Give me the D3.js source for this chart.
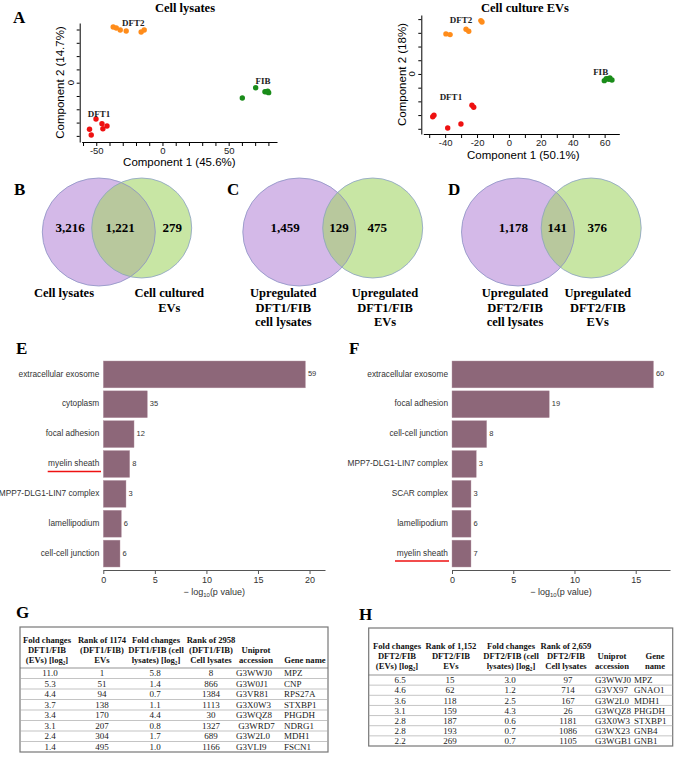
<!DOCTYPE html>
<html>
<head>
<meta charset="utf-8">
<script src="https://cdn.jsdelivr.net/npm/d3@7"></script>
<style>
body { margin: 0; background: #fff; }
</style>
</head>
<body>
<div id="fig"></div>
<script>
// ---- A: PCA scores ----
const lysDFT1 = [[-50.2, -27.3], [-45.7, -30.8], [-41.9, -32.6], [-45, -34.6], [-55.1, -35], [-53.8, -39.3]];
const lysDFT2 = [[-37.2, 41.9], [-34.9, 41.1], [-31.9, 39.6], [-27.4, 38.9], [-16.1, 38.1], [-13.8, 39.6]];
const lysFIB = [[60.3, -11.5], [70.4, -3.8], [77.4, -6.8], [78.7, -6.8], [80.2, -7.5], [79.5, -6.3]];
const evDFT1 = [[-47.8, -31.2], [-47, -30.1], [-38.4, -39.4], [-30.1, -36.5], [-23.2, -22.8], [-22.1, -24.3]];
const evDFT2 = [[-39.5, 29.2], [-36.9, 28.7], [-26.9, 32.6], [-25.2, 31.2], [-17.6, 38.9], [-16.9, 37.9]];
const evFIB = [[59.8, -4.9], [61.9, -3.4], [63.3, -2.9], [64.6, -4.4], [62.7, -3.9], [61, -3.5]];

// ---- B-D: Venn counts ----
const vennB = [3216, 1221, 279];
const vennC = [1459, 129, 475];
const vennD = [1178, 141, 376];
const vennBLabels = [["Cell lysates"], ["Cell cultured", "EVs"]];
const vennCLabels = [["Upregulated", "DFT1/FIB", "cell lysates"], ["Upregulated", "DFT1/FIB", "EVs"]];
const vennDLabels = [["Upregulated", "DFT2/FIB", "cell lysates"], ["Upregulated", "DFT2/FIB", "EVs"]];

// ---- E / F: GO cellular component ----
const termsE = ["extracellular exosome", "cytoplasm", "focal adhesion", "myelin sheath", "MPP7-DLG1-LIN7 complex", "lamellipodium", "cell-cell junction"];
const logpE = [19.6, 4.27, 2.98, 2.56, 2.2, 1.75, 1.62];
const countE = [59, 35, 12, 8, 3, 6, 6];
const termsF = ["extracellular exosome", "focal adhesion", "cell-cell junction", "MPP7-DLG1-LIN7 complex", "SCAR complex", "lamellipodium", "myelin sheath"];
const logpF = [16.45, 7.94, 2.83, 1.98, 1.55, 1.55, 1.55];
const countF = [60, 19, 8, 3, 3, 6, 7];

// ---- G / H tables ----
const headG = [["Fold changes", "DFT1/FIB", "(EVs) [log₂]"], ["Rank of 1174", "(DFT1/FIB)", "EVs"], ["Fold changes", "DFT1/FIB (cell", "lysates) [log₂]"], ["Rank of 2958", "(DFT1/FIB)", "Cell lysates"], ["", "Uniprot", "accession"], ["", "", "Gene name"]];
const rowsG = [
  ["11.0", "1", "5.8", "8", "G3WWJ0", "MPZ"],
  ["5.3", "51", "1.4", "866", "G3W0J1", "CNP"],
  ["4.4", "94", "0.7", "1384", "G3VR81", "RPS27A"],
  ["3.7", "138", "1.1", "1113", "G3X0W3", "STXBP1"],
  ["3.4", "170", "4.4", "30", "G3WQZ8", "PHGDH"],
  ["3.1", "207", "0.8", "1327", "\u00a0G3WRD7", "NDRG1"],
  ["2.4", "304", "1.7", "689", "G3W2L0", "MDH1"],
  ["1.4", "495", "1.0", "1166", "G3VLI9", "FSCN1"]
];
const headH = [["Fold changes", "DFT2/FIB", "(EVs) [log₂]"], ["Rank of 1,152", "DFT2/FIB", "EVs"], ["Fold changes", "DFT2/FIB (cell", "lysates) [log₂]"], ["Rank of 2,659", "DFT2/FIB", "Cell lysates"], ["", "Uniprot", "accession"], ["", "Gene", "name"]];
const rowsH = [
  ["6.5", "15", "3.0", "97", "G3WWJ0", "MPZ"],
  ["4.6", "62", "1.2", "714", "G3VX97", "GNAO1"],
  ["3.6", "118", "2.5", "167", "G3W2L0", "MDH1"],
  ["3.1", "159", "4.3", "26", "G3WQZ8", "PHGDH"],
  ["2.8", "187", "0.6", "1181", "G3X0W3", "STXBP1"],
  ["2.8", "193", "0.7", "1086", "G3WX23", "GNB4"],
  ["2.2", "269", "0.7", "1105", "G3WGB1", "GNB1"]
];

const SERIF = "'Liberation Serif', 'Times New Roman', serif";
const SANS = "'Liberation Sans', Arial, sans-serif";

const svg = d3.select("#fig").append("svg")
  .attr("width", 676)
  .attr("height", 764);

function letter(txt, x, y) {
  svg.append("text").attr("x", x).attr("y", y)
    .attr("font-family", SERIF).attr("font-weight", "bold")
    .attr("font-size", 17).text(txt);
}

// ---------- PCA ----------
function drawPCA(o) {
  const g = svg.append("g");
  const x = d3.scaleLinear().domain(o.xDomain).range(o.xRange);
  const y = d3.scaleLinear().domain(o.yDomain).range(o.yRange);

  const xAxis = d3.axisBottom(x)
    .tickValues(o.xTicks)
    .tickFormat(d => o.xLabels.includes(d) ? String(d) : "")
    .tickSize(4).tickPadding(1.5).tickSizeOuter(0);
  g.append("g").attr("transform", `translate(0,${o.yRange[0]})`).call(xAxis)
    .call(a => a.selectAll("text").attr("font-family", SANS).attr("font-size", 9.5).attr("fill", "#222"));

  const yAxis = d3.axisLeft(y)
    .tickValues(o.yTicks)
    .tickFormat("")
    .tickSize(3).tickSizeOuter(0);
  g.append("g").attr("transform", `translate(${o.xRange[0] - 2},0)`).call(yAxis);

  g.append("text")
    .attr("transform", `translate(${o.xRange[0] - 8},${y(0)}) rotate(-90)`)
    .attr("text-anchor", "middle")
    .attr("font-family", SANS).attr("font-size", 9.5).text("0");

  g.append("text").attr("x", o.titleX).attr("y", o.titleY)
    .attr("text-anchor", "middle").attr("font-family", SERIF)
    .attr("font-weight", "bold").attr("font-size", 12.5).text(o.title);

  g.append("text").attr("x", (o.xRange[0] + o.xRange[1]) / 2 + o.xlabDx).attr("y", o.xlabY)
    .attr("text-anchor", "middle").attr("font-family", SANS)
    .attr("font-size", 11.5).text(o.xLabel);
  g.append("text")
    .attr("transform", `translate(${o.ylabX},${(o.yRange[0] + o.yRange[1]) / 2}) rotate(-90)`)
    .attr("text-anchor", "middle").attr("font-family", SANS)
    .attr("font-size", 11.5).text(o.yLabel);

  o.groups.forEach(grp => {
    g.selectAll(null).data(grp.pts).enter().append("circle")
      .attr("cx", d => x(d[0])).attr("cy", d => y(d[1]))
      .attr("r", 2.7).attr("fill", grp.color);
    g.append("text").attr("x", x(grp.lab[0])).attr("y", y(grp.lab[1]))
      .attr("text-anchor", "middle").attr("dominant-baseline", "middle")
      .attr("font-family", SERIF).attr("font-weight", "bold")
      .attr("font-size", 9).attr("fill", "#222").text(grp.name);
  });
}

drawPCA({
  xDomain: [-61, 86.5], xRange: [81.7, 277],
  yDomain: [-44.6, 44.9], yRange: [142, 23],
  xTicks: d3.range(-60, 90, 10), xLabels: [-50, 0, 50],
  yTicks: d3.range(-40, 50, 10),
  title: "Cell lysates", titleX: 185, titleY: 12,
  xLabel: "Component 1 (45.6%)", xlabDx: 0, xlabY: 166,
  yLabel: "Component 2 (14.7%)", ylabX: 64,
  groups: [
    {name: "DFT2", pts: lysDFT2, color: "#ff8c1a", lab: [-22, 44.5]},
    {name: "DFT1", pts: lysDFT1, color: "#ee1111", lab: [-48, -24.5]},
    {name: "FIB", pts: lysFIB, color: "#1a8c1a", lab: [76, 0.5]}
  ]
});

drawPCA({
  xDomain: [-53.7, 69.2], xRange: [423.3, 619.3],
  yDomain: [-43.8, 43], yRange: [134, 15],
  xTicks: d3.range(-50, 70, 10), xLabels: [-40, -20, 0, 20, 40, 60],
  yTicks: d3.range(-40, 50, 10),
  title: "Cell culture EVs", titleX: 525, titleY: 11.5,
  xLabel: "Component 1 (50.1%)", xlabDx: 2, xlabY: 159,
  yLabel: "Component 2 (18%)", ylabX: 406,
  groups: [
    {name: "DFT2", pts: evDFT2, color: "#ff8c1a", lab: [-30, 38.5]},
    {name: "DFT1", pts: evDFT1, color: "#ee1111", lab: [-36.4, -17.5]},
    {name: "FIB", pts: evFIB, color: "#1a8c1a", lab: [57.5, 0.5]}
  ]
});

// ---------- Venn ----------
const fmt = d3.format(",");
function drawVenn(id, o) {
  const g = svg.append("g");
  const a = {cx: o.cx, cy: 232, rx: 56.5, ry: 54};
  const b = {cx: o.cx + o.dx, cy: 228, rx: 50, ry: 50};
  g.append("clipPath").attr("id", id).append("ellipse")
    .attr("cx", a.cx).attr("cy", a.cy).attr("rx", a.rx).attr("ry", a.ry);
  const ell = (s, fill) => g.append("ellipse")
    .attr("cx", s.cx).attr("cy", s.cy).attr("rx", s.rx).attr("ry", s.ry)
    .attr("fill", fill);
  ell(a, "#d4b9e8");
  ell(b, "#c8e6a4");
  ell(b, "#b8c89d").attr("clip-path", `url(#${id})`);
  ell(a, "none").attr("stroke", "#8c92c4").attr("stroke-width", 0.8);
  ell(b, "none").attr("stroke", "#8aa0c4").attr("stroke-width", 0.8);

  o.vals.forEach((v, i) => {
    g.append("text").attr("x", o.numX[i]).attr("y", 232)
      .attr("text-anchor", "middle").attr("font-family", SERIF)
      .attr("font-weight", "bold").attr("font-size", 13).text(fmt(v));
  });
  o.labels.forEach((lines, i) => {
    lines.forEach((t, j) => {
      g.append("text").attr("x", o.labX[i]).attr("y", 297 + j * 14.5)
        .attr("text-anchor", "middle").attr("font-family", SERIF)
        .attr("font-weight", "bold").attr("font-size", 12.5).text(t);
    });
  });
}
drawVenn("clipB", {cx: 98.8, dx: 42.9, vals: vennB, numX: [70, 120, 172.3], labels: vennBLabels, labX: [64, 169.3]});
drawVenn("clipC", {cx: 299.3, dx: 73.4, vals: vennC, numX: [285, 339, 377.3], labels: vennCLabels, labX: [283.3, 385]});
drawVenn("clipD", {cx: 518, dx: 73.2, vals: vennD, numX: [513.3, 557.3, 597.3], labels: vennDLabels, labX: [515, 597.7]});

// ---------- GO bars ----------
function drawBars(o) {
  const g = svg.append("g");
  const x = d3.scaleLinear().domain([0, o.max]).range([o.x0, o.x1]);
  const y = d3.scaleBand().domain(o.terms).range([359.5, 568.5]).paddingInner(0.1).paddingOuter(0.05);
  const data = o.terms.map((t, i) => ({t: t, v: o.vals[i], n: o.counts[i]}));

  g.selectAll("rect").data(data).enter().append("rect")
    .attr("x", x(0)).attr("y", d => y(d.t))
    .attr("width", d => x(d.v) - x(0)).attr("height", y.bandwidth())
    .attr("fill", "#8d6779").attr("stroke", "#b89aa8").attr("stroke-width", 0.4);

  g.selectAll(".cnt").data(data).enter().append("text")
    .attr("x", d => x(d.v) + 2.5).attr("y", d => y(d.t) + y.bandwidth() / 2)
    .attr("dominant-baseline", "middle").attr("font-family", SANS)
    .attr("font-size", 7.5).attr("fill", "#333").text(d => d.n);

  g.selectAll(".lab").data(data).enter().append("text")
    .attr("x", o.x0 - 4).attr("y", d => y(d.t) + y.bandwidth() / 2)
    .attr("text-anchor", "end").attr("dominant-baseline", "middle")
    .attr("font-family", SANS).attr("font-size", 8.3).attr("fill", "#333").text(d => d.t);

  const ul = data.find(d => d.t === o.underline);
  const ulY = y(ul.t) + y.bandwidth() / 2 + 7.5;
  g.append("line").attr("x1", o.ulX[0]).attr("x2", o.ulX[1])
    .attr("y1", ulY).attr("y2", ulY)
    .attr("stroke", "#ee1111").attr("stroke-width", 1.5);

  g.append("g").attr("transform", "translate(0,570)")
    .call(d3.axisBottom(x).tickValues(o.ticks).tickFormat(d3.format("d")).tickSize(4).tickSizeOuter(0))
    .call(a => a.select(".domain").attr("stroke", "#555"))
    .call(a => a.selectAll(".tick line").attr("stroke", "#555"))
    .call(a => a.selectAll("text").attr("font-family", SANS).attr("font-size", 9).attr("fill", "#333"));

  const t = g.append("text").attr("x", (o.x0 + o.x1) / 2).attr("y", 595)
    .attr("text-anchor", "middle").attr("font-family", SANS)
    .attr("font-size", 9).attr("fill", "#333");
  t.append("tspan").text("\u2212 log");
  t.append("tspan").attr("font-size", 6).attr("dy", 2).text("10");
  t.append("tspan").attr("dy", -2).text("(p value)");
}
drawBars({terms: termsE, vals: logpE, counts: countE, max: 21.5, x0: 103.3, x1: 325,
  ticks: [0, 5, 10, 15, 20], underline: "myelin sheath", ulX: [47.7, 101]});
drawBars({terms: termsF, vals: logpF, counts: countF, max: 17.8, x0: 452, x1: 670,
  ticks: [0, 5, 10, 15], underline: "myelin sheath", ulX: [395, 449]});

// ---------- tables ----------
function drawTable(o) {
  const g = svg.append("g");
  g.append("rect").attr("x", o.left).attr("y", o.top)
    .attr("width", o.right - o.left).attr("height", o.bottom - o.top)
    .attr("fill", "none").attr("stroke", "#777").attr("stroke-width", 1.2);

  o.head.forEach((lines, c) => {
    lines.forEach((t, j) => {
      if (!t) return;
      g.append("text").attr("x", o.headX[c]).attr("y", o.headY + j * 10)
        .attr("text-anchor", "middle").attr("font-family", SERIF)
        .attr("font-weight", "bold").attr("font-size", 8.6).attr("fill", "#111").text(t);
    });
  });

  const rowH = (o.bottom - o.headBottom) / o.rows.length;
  o.rows.forEach((r, i) => {
    const top = o.headBottom + i * rowH;
    g.append("line").attr("x1", o.left).attr("x2", o.right)
      .attr("y1", top).attr("y2", top)
      .attr("stroke", i === 0 ? "#666" : "#aaa").attr("stroke-width", 0.7);
    r.forEach((t, c) => {
      g.append("text").attr("x", o.colX[c]).attr("y", top + rowH / 2 + 3.2)
        .attr("text-anchor", o.anchor[c]).attr("font-family", SERIF)
        .attr("font-size", 9).attr("fill", "#222").text(t);
    });
  });
}
drawTable({head: headG, rows: rowsG, left: 20, right: 328, top: 627, bottom: 752,
  headY: 643, headBottom: 668,
  headX: [47, 102, 156, 211, 256, 305],
  colX: [50, 102, 155, 211, 236, 284],
  anchor: ["middle", "middle", "middle", "middle", "start", "start"]});
drawTable({head: headH, rows: rowsH, left: 368.7, right: 672.7, top: 628, bottom: 746,
  headY: 649, headBottom: 675,
  headX: [397, 451, 511, 566, 612, 655],
  colX: [400, 450, 510, 568, 595, 634],
  anchor: ["middle", "middle", "middle", "middle", "start", "start"]});

letter("A", 13, 23);
letter("B", 14, 195);
letter("C", 227, 195);
letter("D", 448, 195);
letter("E", 16, 354);
letter("F", 349, 354);
letter("G", 16, 618);
letter("H", 359, 620);
</script>
</body>
</html>
